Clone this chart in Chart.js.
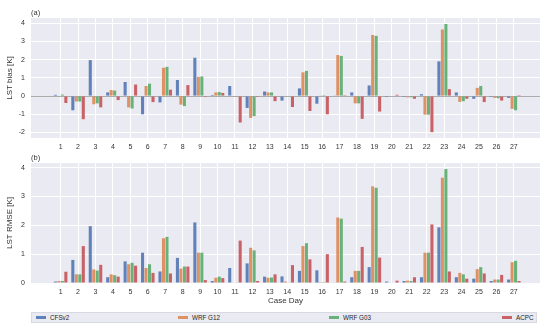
<!DOCTYPE html>
<html>
<head>
<meta charset="utf-8">
<script src="https://cdn.jsdelivr.net/npm/chart.js@4/dist/chart.umd.min.js"></script>
<style>
  html, body { margin: 0; padding: 0; background: #ffffff; }
  #wrap { position: relative; width: 550px; height: 333px; overflow: hidden; font-family: "Liberation Sans", Arial, sans-serif; }
  canvas { position: absolute; left: 0; }
  #legend { position: absolute; left: 31px; top: 312px; width: 506px; height: 11px; background: #eaeaf2; border: 1px solid #d8d8e0; box-sizing: border-box; }
  .lg { position: absolute; top: 0; height: 9px; display: flex; align-items: center; font-size: 6.3px; color: #262626; white-space: nowrap; }
  .lg span.h { display: inline-block; width: 10px; height: 3px; margin-right: 4px; }
</style>
</head>
<body>
<div id="wrap">
  <canvas id="c1" width="550" height="155" style="top:0px"></canvas>
  <canvas id="c2" width="550" height="183" style="top:150px"></canvas>
  <div id="legend"></div>
</div>
<script>
// ---- data ----
const days = [1,2,3,4,5,6,7,8,9,10,11,12,13,14,15,16,17,18,19,20,21,22,23,24,25,26,27];
const seriesNames = ['CFSv2', 'WRF G12', 'WRF G03', 'ACPC'];

const biasCFSv2 = [0.07,-0.78,1.97,0.2,0.77,-1.0,-0.35,0.88,2.1,0.06,0.55,-0.65,0.25,-0.25,0.42,-0.42,0.02,0.2,0.58,-0.05,-0.05,0.1,1.9,0.2,-0.15,-0.05,-0.1];
const biasG12   = [-0.03,-0.3,-0.45,0.33,-0.62,0.55,1.55,-0.47,1.05,0.2,-0.02,-1.2,0.2,-0.03,1.3,0.02,2.25,-0.4,3.35,0.0,-0.07,-1.02,3.65,-0.32,0.45,-0.1,-0.7];
const biasG03   = [0.08,-0.3,-0.4,0.3,-0.68,0.68,1.6,-0.55,1.07,0.22,-0.02,-1.1,0.2,-0.03,1.38,0.05,2.2,-0.4,3.3,0.0,-0.07,-1.02,3.95,-0.28,0.55,-0.12,-0.78];
const biasACPC  = [-0.38,-1.27,-0.62,-0.22,0.63,-0.33,0.35,0.6,-0.05,0.17,-1.45,-0.05,-0.28,-0.6,-0.82,-1.0,0.05,-1.25,-0.85,0.07,-0.15,-1.98,0.38,-0.15,-0.33,-0.25,0.05];

const rmseCFSv2 = [0.05,0.8,1.97,0.2,0.75,1.05,0.4,0.87,2.1,0.07,0.52,0.68,0.22,0.23,0.42,0.44,0.02,0.2,0.55,0.05,0.07,0.2,1.93,0.2,0.15,0.07,0.12];
const rmseG12   = [0.07,0.3,0.47,0.3,0.65,0.52,1.55,0.5,1.05,0.18,0.02,1.22,0.18,0.05,1.28,0.03,2.27,0.42,3.35,0.0,0.08,1.05,3.65,0.35,0.48,0.12,0.72];
const rmseG03   = [0.07,0.3,0.43,0.27,0.7,0.65,1.6,0.57,1.05,0.22,0.02,1.13,0.19,0.02,1.38,0.03,2.23,0.42,3.3,0.0,0.07,1.05,3.95,0.3,0.55,0.12,0.77];
const rmseACPC  = [0.39,1.28,0.63,0.22,0.6,0.35,0.33,0.57,0.1,0.17,1.47,0.07,0.3,0.62,0.82,1.0,0.05,1.25,0.88,0.08,0.2,2.03,0.4,0.15,0.33,0.28,0.07];

const biasTicks = [-2,-1,0,1,2,3,4];
const rmseTicks = [0,1,2,3,4];

// ---- style ----
const colors = ['rgba(76,114,176,0.88)', 'rgba(221,132,82,0.88)', 'rgba(85,168,104,0.88)', 'rgba(196,78,82,0.88)'];
const FONT = '"Liberation Sans", Arial, sans-serif';
const TXT = '#333333';

const bgPlugin = {
  id: 'bg',
  beforeDraw(chart) {
    const a = chart.chartArea, c = chart.ctx;
    c.save(); c.fillStyle = '#eaeaf2'; c.fillRect(a.left, a.top, a.right - a.left, a.bottom - a.top); c.restore();
  }
};
const zeroPlugin = {
  id: 'zero',
  beforeDatasetsDraw(chart, args, opts) {
    if (!opts.show) return;
    const a = chart.chartArea, c = chart.ctx, y = Math.round(chart.scales.y.getPixelForValue(0)) + 0.5;
    c.save(); c.strokeStyle = 'rgba(140,140,140,0.9)'; c.lineWidth = 0.8;
    c.beginPath(); c.moveTo(a.left, y); c.lineTo(a.right, y); c.stroke(); c.restore();
  }
};
const panelLabel = {
  id: 'plabel',
  afterDraw(chart, args, opts) {
    const c = chart.ctx;
    c.save(); c.fillStyle = TXT; c.font = '7.5px ' + FONT; c.textBaseline = 'middle'; c.textAlign = 'left';
    c.fillText(opts.text, chart.chartArea.left, chart.chartArea.top - 5.5); c.restore();
  }
};

function makePanel(id, series, yMin, yMax, yTicks, yTitle, label, showZero, pad, xHeight, xTitle) {
  const datasets = series.map((vals, i) => ({
    label: seriesNames[i],
    data: vals.map((v, k) => ({ x: days[k], y: v })),
    backgroundColor: colors[i],
    borderWidth: 0,
    categoryPercentage: 0.8,
    barPercentage: 0.88
  }));
  return new Chart(document.getElementById(id), {
    type: 'bar',
    data: { datasets },
    plugins: [bgPlugin, zeroPlugin, panelLabel],
    options: {
      responsive: false, animation: false, devicePixelRatio: 1,
      layout: { padding: pad },
      plugins: {
        legend: { display: false }, tooltip: { enabled: false },
        zero: { show: showZero }, plabel: { text: label }
      },
      scales: {
        x: {
          type: 'linear', min: -0.7, max: 28.5, offset: false,
          afterBuildTicks: s => { s.ticks = days.map(d => ({ value: d })); },
          afterFit: s => { s.height = xHeight; },
          grid: { color: '#ffffff', lineWidth: 1, drawTicks: false, offset: false },
          border: { display: false },
          ticks: { font: { family: FONT, size: 7 }, color: TXT, padding: 5, maxRotation: 0, autoSkip: false,
                   callback: v => String(v) },
          title: xTitle ? { display: true, text: xTitle, font: { family: FONT, size: 8 }, color: TXT, padding: { top: 0, bottom: 0 } } : { display: false }
        },
        y: {
          min: yMin, max: yMax,
          afterBuildTicks: s => { s.ticks = yTicks.map(v => ({ value: v })); },
          afterFit: s => { s.width = 31; },
          grid: { color: '#ffffff', lineWidth: 1, drawTicks: false },
          border: { display: false },
          ticks: { font: { family: FONT, size: 7 }, color: TXT, padding: 6 },
          title: { display: true, text: yTitle, font: { family: FONT, size: 8 }, color: TXT, padding: { top: 5, bottom: 0 } }
        }
      }
    }
  });
}

makePanel('c1', [biasCFSv2, biasG12, biasG03, biasACPC], -2.3, 4.28, biasTicks, 'LST bias [K]', '(a)', true,
          { top: 18, right: 10, left: 0, bottom: 0 }, 17, null);
makePanel('c2', [rmseCFSv2, rmseG12, rmseG03, rmseACPC], 0, 4.16, rmseTicks, 'LST RMSE [K]', '(b)', false,
          { top: 13, right: 10, left: 0, bottom: 27 }, 23, 'Case Day');

// ---- legend ----
const legendLeft = [4, 146, 297, 470];
const lg = document.getElementById('legend');
seriesNames.forEach((n, i) => {
  const d = document.createElement('div');
  d.className = 'lg';
  d.style.left = legendLeft[i] + 'px';
  d.innerHTML = '<span class="h" style="background:' + colors[i] + '"></span>' + n;
  lg.appendChild(d);
});
</script>
</body>
</html>
